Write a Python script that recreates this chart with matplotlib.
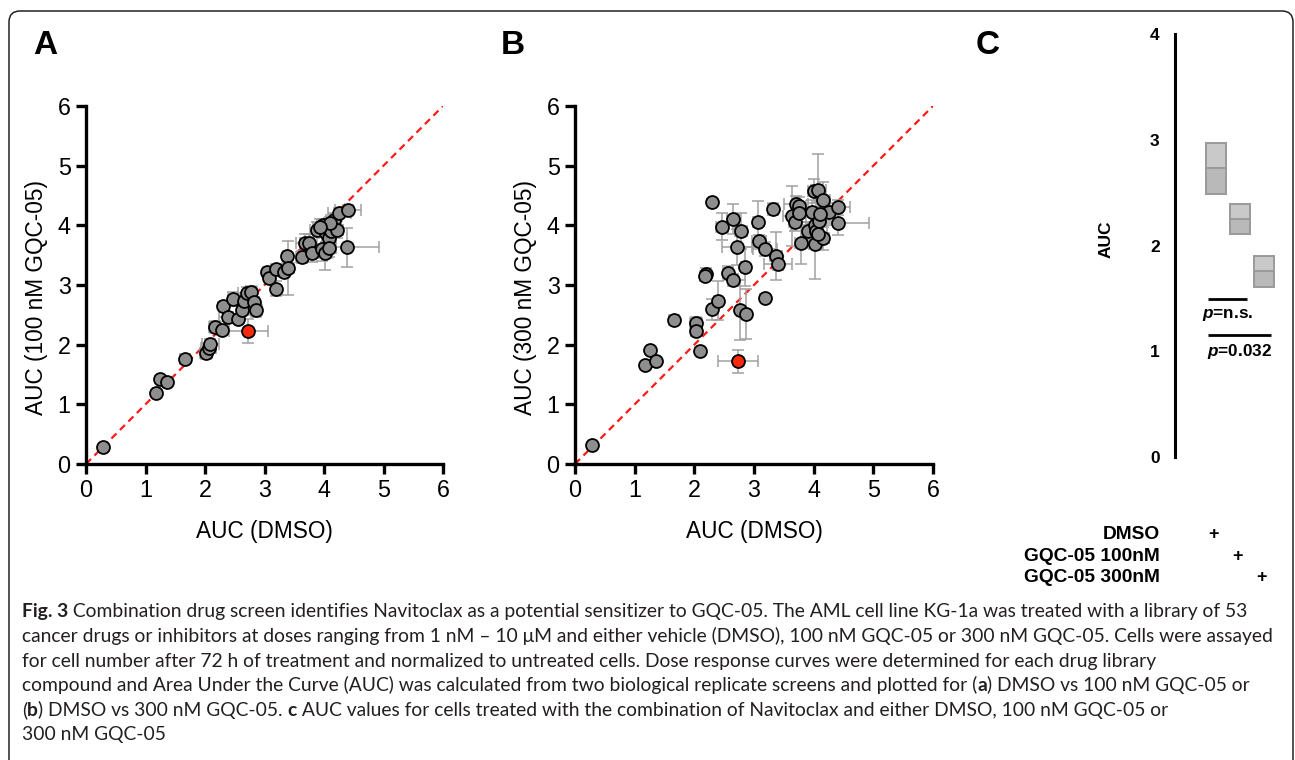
import matplotlib
matplotlib.use("Agg")
import matplotlib.pyplot as plt
import numpy as np
from matplotlib.patches import FancyBboxPatch
from matplotlib.transforms import IdentityTransform

# ---------------- data ----------------
# Panel A: DMSO vs 100 nM GQC-05
a_x = [0.28, 1.18, 1.25, 1.36, 1.66, 2.01, 2.06, 2.09, 2.17, 2.28, 2.30, 2.38, 2.47, 2.55,
       2.63, 2.65, 2.71, 2.78, 2.82, 2.86, 3.04, 3.08, 3.19, 3.19, 3.32, 3.37, 3.40, 3.63,
       3.68, 3.74, 3.79, 3.89, 3.97, 3.99, 4.01, 4.03, 4.08, 4.11, 4.16, 4.22, 4.08, 4.26,
       4.40, 4.39, 4.10, 3.94]
a_y = [0.28, 1.19, 1.43, 1.38, 1.76, 1.86, 1.94, 2.01, 2.30, 2.24, 2.65, 2.47, 2.77, 2.43,
       2.58, 2.73, 2.86, 2.89, 2.72, 2.58, 3.21, 3.12, 3.26, 2.94, 3.22, 3.48, 3.28, 3.47,
       3.70, 3.70, 3.53, 3.93, 3.60, 4.01, 3.53, 3.87, 3.79, 3.91, 4.09, 3.93, 3.62, 4.21,
       4.26, 3.63, 4.04, 3.98]
a_xerr = [0.03, 0.05, 0.05, 0.05, 0.08, 0.10, 0.12, 0.14, 0.10, 0.08, 0.05, 0.15, 0.08, 0.06,
          0.10, 0.08, 0.15, 0.10, 0.08, 0.10, 0.06, 0.06, 0.08, 0.05, 0.08, 0.06, 0.10, 0.10,
          0.15, 0.15, 0.12, 0.12, 0.15, 0.10, 0.12, 0.12, 0.12, 0.10, 0.12, 0.10, 0.12, 0.20,
          0.22, 0.53, 0.10, 0.12]
a_yerr = [0.03, 0.05, 0.05, 0.05, 0.05, 0.10, 0.08, 0.08, 0.10, 0.08, 0.06, 0.08, 0.12, 0.06,
          0.08, 0.10, 0.10, 0.10, 0.08, 0.12, 0.06, 0.06, 0.08, 0.13, 0.08, 0.06, 0.45, 0.10,
          0.15, 0.15, 0.15, 0.12, 0.20, 0.10, 0.28, 0.15, 0.20, 0.12, 0.10, 0.15, 0.15, 0.08,
          0.08, 0.32, 0.10, 0.12]
a_hit_x, a_hit_y, a_hit_xerr, a_hit_yerr = [2.73], [2.23], [0.33], [0.20]

# Panel B: DMSO vs 300 nM GQC-05
b_x = [0.28, 1.18, 1.25, 1.35, 1.66, 2.03, 2.02, 2.09, 2.20, 2.18, 2.29, 2.29, 2.39, 2.47,
       2.56, 2.64, 2.65, 2.71, 2.77, 2.78, 2.85, 2.86, 3.06, 3.08, 3.19, 3.19, 3.32, 3.37,
       3.40, 3.63, 3.69, 3.70, 3.75, 3.76, 3.79, 3.91, 3.97, 4.00, 4.08, 4.02, 4.04, 4.02,
       4.09, 4.16, 4.16, 4.26, 4.41, 4.40, 4.11, 4.08]
b_y = [0.32, 1.66, 1.91, 1.72, 2.42, 2.36, 2.23, 1.90, 3.18, 3.15, 4.39, 2.59, 2.74, 3.98,
       3.20, 3.08, 4.11, 3.64, 2.58, 3.90, 3.31, 2.51, 4.05, 3.73, 3.60, 2.79, 4.28, 3.49,
       3.35, 4.16, 4.06, 4.35, 4.33, 4.21, 3.71, 3.91, 4.23, 4.57, 4.59, 4.01, 3.91, 3.68,
       4.08, 4.42, 3.78, 4.22, 4.30, 4.04, 4.19, 3.85]
b_xerr = [0.02, 0.04, 0.04, 0.04, 0.08, 0.10, 0.08, 0.05, 0.06, 0.06, 0.05, 0.05, 0.06, 0.10,
          0.08, 0.06, 0.10, 0.25, 0.05, 0.10, 0.06, 0.08, 0.08, 0.12, 0.20, 0.05, 0.08, 0.10,
          0.23, 0.15, 0.10, 0.20, 0.12, 0.10, 0.10, 0.10, 0.12, 0.10, 0.12, 0.40, 0.12, 0.10,
          0.12, 0.12, 0.10, 0.15, 0.20, 0.53, 0.12, 0.15]
b_yerr = [0.02, 0.04, 0.04, 0.04, 0.05, 0.10, 0.08, 0.06, 0.10, 0.08, 0.05, 0.18, 0.33, 0.22,
          0.12, 0.10, 0.25, 0.30, 0.50, 0.30, 0.33, 0.42, 0.36, 0.10, 0.12, 0.06, 0.10, 0.40,
          0.10, 0.50, 0.15, 0.15, 0.15, 0.15, 0.35, 0.15, 0.20, 0.20, 0.61, 0.30, 0.20, 0.58,
          0.20, 0.30, 0.20, 0.15, 0.12, 0.20, 0.20, 0.20]
b_hit_x, b_hit_y, b_hit_xerr, b_hit_yerr = [2.73], [1.72], [0.34], [0.19]

# Panel C: Navitoclax AUC (min, mean, max)
c_groups = ["DMSO", "GQC-05 100nM", "GQC-05 300nM"]
c_min = [2.485, 2.11, 1.61]
c_mean = [2.73, 2.25, 1.76]
c_max = [2.965, 2.39, 1.90]
sig_labels = ["n.s.", "0.032"]

axis_ticks = [0, 1, 2, 3, 4, 5, 6]
c_ticks = [0, 1, 2, 3, 4]

caption_lines = [
    [("Fig. 3", True), (" Combination drug screen identifies Navitoclax as a potential sensitizer to GQC-05. The AML cell line KG-1a was treated with a library of 53", False)],
    [("cancer drugs or inhibitors at doses ranging from 1 nM \u2013 10 \u03bcM and either vehicle (DMSO), 100 nM GQC-05 or 300 nM GQC-05. Cells were assayed", False)],
    [("for cell number after 72 h of treatment and normalized to untreated cells. Dose response curves were determined for each drug library", False)],
    [("compound and Area Under the Curve (AUC) was calculated from two biological replicate screens and plotted for (", False), ("a", True), (") DMSO vs 100 nM GQC-05 or", False)],
    [("(", False), ("b", True), (") DMSO vs 300 nM GQC-05. ", False), ("c", True), (" AUC values for cells treated with the combination of Navitoclax and either DMSO, 100 nM GQC-05 or", False)],
    [("300 nM GQC-05", False)],
]

# ---------------- figure ----------------
W, H = 1295, 760
DPI = 100
fig = plt.figure(figsize=(W / DPI, H / DPI), dpi=DPI)
fig.patch.set_facecolor("white")
FONT = ["Liberation Sans", "DejaVu Sans"]
plt.rcParams["font.family"] = FONT
plt.rcParams["mathtext.fontset"] = "custom"
plt.rcParams["mathtext.it"] = "Liberation Sans:italic:bold"
plt.rcParams["mathtext.rm"] = "Liberation Sans:bold"


def px_axes(left, top, right, bottom):
    return fig.add_axes([left / W, 1 - bottom / H, (right - left) / W, (bottom - top) / H])


# rounded frame
frame = FancyBboxPatch((9, -30), 1284, 749 + 30, boxstyle="round,pad=0,rounding_size=11",
                       transform=IdentityTransform(), facecolor="none", edgecolor="#222222",
                       linewidth=1.1, zorder=0)
fig.patches.append(frame)

GRAY = "#8e8e8e"
ERR = "#a0a0a0"
HIT = "#f42a0a"


def scatter_panel(ax, x, y, xe, ye, hx, hy, hxe, hye, ylabel):
    ax.plot(axis_ticks[::6], axis_ticks[::6], ls=(0, (3.2, 2.2)), color="#ff1a1a", lw=1.6, zorder=1)
    ax.errorbar(x, y, xerr=xe, yerr=ye, fmt="none", ecolor=ERR, elinewidth=1.1, capsize=4,
                capthick=1.1, zorder=2)
    ax.errorbar(hx, hy, xerr=hxe, yerr=hye, fmt="none", ecolor=ERR, elinewidth=1.1, capsize=4,
                capthick=1.1, zorder=2)
    ax.plot(x, y, "o", ms=9.3, mfc=GRAY, mec="black", mew=1.3, ls="none", zorder=3)
    ax.plot(hx, hy, "o", ms=9.3, mfc=HIT, mec="black", mew=1.3, ls="none", zorder=4)
    ax.set_xlim(0, 6)
    ax.set_ylim(0, 6)
    ax.set_xticks(axis_ticks)
    ax.set_yticks(axis_ticks)
    for s in ["top", "right"]:
        ax.spines[s].set_visible(False)
    for s in ["left", "bottom"]:
        ax.spines[s].set_linewidth(2.4)
        ax.spines[s].set_capstyle("projecting")
    ax.tick_params(width=2.4, length=7, labelsize=16.8, pad=4, color="black")
    ax.set_xlabel("AUC (DMSO)", fontsize=16.3, labelpad=13)
    ax.set_ylabel(ylabel, fontsize=16.3)
    ax.yaxis.set_label_coords(-0.106, 0.464)


axA = px_axes(86, 106, 443, 464)
scatter_panel(axA, a_x, a_y, a_xerr, a_yerr, a_hit_x, a_hit_y, a_hit_xerr, a_hit_yerr,
              "AUC (100 nM GQC-05)")
axB = px_axes(575, 106, 933, 464)
scatter_panel(axB, b_x, b_y, b_xerr, b_yerr, b_hit_x, b_hit_y, b_hit_xerr, b_hit_yerr,
              "AUC (300 nM GQC-05)")

# panel letters
for lbl, xp in [("A", 45), ("B", 513), ("C", 988)]:
    fig.text(xp / W, 1 - 46 / H, lbl, fontsize=24, fontweight="bold", ha="center", va="center")

# ---------------- panel C ----------------
axC = px_axes(1175, 34, 1290, 457)
pos = np.arange(len(c_groups))
bw = 0.83
lo_h = np.array(c_mean) - np.array(c_min)
hi_h = np.array(c_max) - np.array(c_mean)
axC.bar(pos, lo_h, bottom=c_min, width=bw, color="#b9b9b9", edgecolor="#9a9a9a", linewidth=1.4, zorder=2)
axC.bar(pos, hi_h, bottom=c_mean, width=bw, color="#c9c9c9", edgecolor="#9a9a9a", linewidth=1.4, zorder=2)
axC.set_ylim(0, 4)
axC.set_xlim(-1.685, 3.08)
axC.set_yticks(c_ticks)
axC.set_xticks([])
for s in ["top", "right", "bottom"]:
    axC.spines[s].set_visible(False)
axC.spines["left"].set_linewidth(2.2)
axC.tick_params(axis="y", length=0, pad=11, labelsize=12.5)
for t in axC.get_yticklabels():
    t.set_fontweight("bold")
axC.set_ylabel("AUC", fontsize=12.5, fontweight="bold")
axC.yaxis.set_label_coords(-0.53, 0.515)

# significance bars
sig_y = [1.49, 1.15]
sig_ends = [1, 2]
for lab, yy, e in zip(sig_labels, sig_y, sig_ends):
    x0, x1 = pos[0] - 0.3, pos[e] + 0.28
    axC.plot([x0, x1], [yy, yy], color="black", lw=2.0, solid_capstyle="butt")
    axC.text((x0 + x1) / 2, yy - 0.15, r"$p$" + "=" + lab, fontsize=12.3, fontweight="bold",
             ha="center", va="center")

# treatment rows
trans = axC.get_xaxis_transform()
row_y = [-0.183, -0.235, -0.285]
for i, (g, ry) in enumerate(zip(c_groups, row_y)):
    axC.text(-2.3, ry, g, transform=trans, ha="right", va="center", fontsize=13.8,
             fontweight="bold", clip_on=False)
    axC.text(pos[i] - 0.1, ry, "+", transform=trans, ha="center", va="center", fontsize=13,
             fontweight="bold", clip_on=False)

# ---------------- caption ----------------
CAP_FONT = ["Lato", "DejaVu Sans"]
renderer = fig.canvas.get_renderer()


def seg_width(segments, fs):
    w = 0
    for txt, bold in segments:
        t = fig.text(0, 0, txt, fontsize=fs, family=CAP_FONT,
                     fontweight="bold" if bold else "normal")
        w += t.get_window_extent(renderer=renderer).width
        t.remove()
    return w


def draw_line(segments, x0, yb, fs):
    x = x0
    for txt, bold in segments:
        t = fig.text(x / W, 1 - yb / H, txt, fontsize=fs, family=CAP_FONT,
                     fontweight="bold" if bold else "normal", ha="left", va="baseline",
                     color="#231f20")
        x += t.get_window_extent(renderer=renderer).width


fs0 = 13.0
wmax = max(seg_width(s, fs0) for s in caption_lines)
fs = fs0 * 1252 / wmax

base_y = [617, 642, 667, 691, 716, 740]
for segs, yb in zip(caption_lines, base_y):
    draw_line(segs, 22, yb, fs)

fig.savefig("out.png", dpi=DPI, facecolor="white")
